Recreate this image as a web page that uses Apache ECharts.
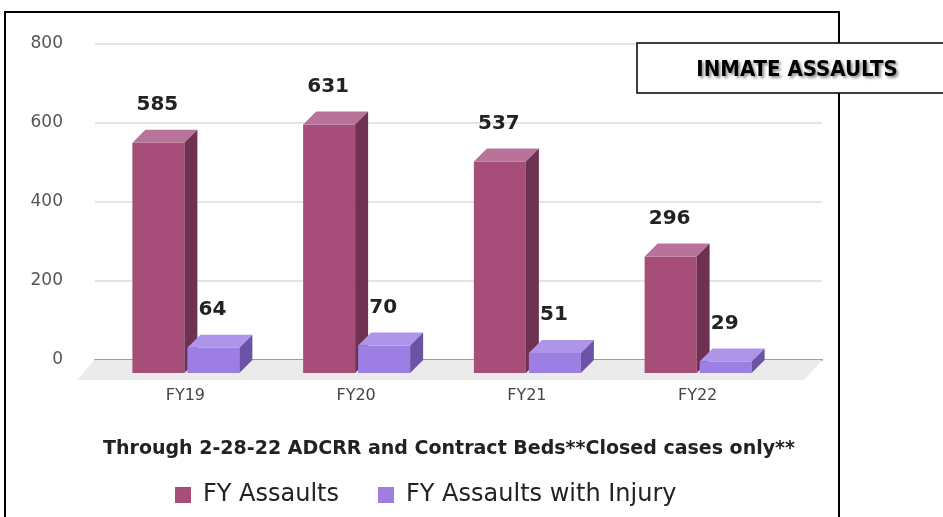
<!DOCTYPE html>
<html><head><meta charset="utf-8">
<script src="https://cdn.jsdelivr.net/npm/echarts@6/dist/echarts.min.js"></script>
<style>html,body{margin:0;padding:0;background:#fff}#c{width:943px;height:517px}</style>
</head><body><div id="c"></div>
<script>
const categories = ['FY19', 'FY20', 'FY21', 'FY22'];
const assaults = [585, 631, 537, 296];
const injuries = [64, 70, 51, 29];
const yMin = 0, yMax = 800, yStep = 200;
const seriesNames = ['FY Assaults', 'FY Assaults with Injury'];
const subtitle = 'Through 2-28-22 ADCRR and Contract Beds**Closed cases only**';
const boxTitle = 'INMATE ASSAULTS';

const DX = 13, DY = 13;
const ASSAULT = {front: '#a64d79', top: '#b9739a', side: '#6e3152'};
const INJURY = {front: '#9d7fe3', top: '#ae95ea', side: '#6b53a8'};
const LABEL_FONT = 'bold 20px "DejaVu Sans"';

function box3d(top, bottom, x0, x1, col) {
  return [
    {type: 'rect', shape: {x: x0, y: top, width: x1 - x0, height: bottom - top}, style: {fill: col.front}},
    {type: 'polygon', shape: {points: [[x0, top], [x1, top], [x1 + DX, top - DY], [x0 + DX, top - DY]]}, style: {fill: col.top}},
    {type: 'polygon', shape: {points: [[x1, top], [x1 + DX, top - DY], [x1 + DX, bottom - DY], [x1, bottom]]}, style: {fill: col.side}}
  ];
}
function valLabel(v, x, y) {
  return {type: 'text', style: {text: String(v), x: x, y: y, align: 'center', verticalAlign: 'middle', font: LABEL_FONT, fill: '#222'}};
}

const chart = echarts.init(document.getElementById('c'), null, {renderer: 'canvas'});
chart.setOption({
  backgroundColor: '#fff',
  animation: false,
  grid: [
    {left: 95, right: 121, top: 44, bottom: 157},
    {left: 100, right: 160, top: 58, bottom: 144}
  ],
  xAxis: [
    {gridIndex: 0, type: 'value', min: 0, max: 1, axisLabel: {show: false}, axisTick: {show: false}, splitLine: {show: false},
     axisLine: {show: true, lineStyle: {color: '#9e9e9e', width: 2}}},
    {gridIndex: 1, type: 'category', data: categories, axisLine: {show: false}, axisTick: {show: false},
     axisLabel: {margin: 15, color: '#444', fontSize: 16, fontFamily: 'DejaVu Sans'}}
  ],
  yAxis: [
    {gridIndex: 0, type: 'value', min: yMin, max: yMax, interval: yStep,
     axisLine: {show: false}, axisTick: {show: false},
     axisLabel: {margin: 32, color: '#555', fontSize: 17, fontFamily: 'DejaVu Sans'},
     splitLine: {lineStyle: {color: '#e4e4e4', width: 2}}},
    {gridIndex: 1, type: 'value', min: yMin, max: yMax, interval: yStep, show: false}
  ],
  legend: {
    left: 170, top: 478, icon: 'rect', itemWidth: 16, itemHeight: 16, itemGap: 39,
    data: seriesNames,
    textStyle: {fontSize: 24, fontFamily: 'DejaVu Sans', color: '#222', padding: [0, 0, 0, 7]}
  },
  graphic: [
    {type: 'rect', z: 100, shape: {x: 5, y: 12, width: 834, height: 600}, style: {fill: 'none', stroke: '#000', lineWidth: 2}},
    {type: 'rect', z: 101, shape: {x: 637, y: 43, width: 330, height: 50}, style: {fill: '#fff', stroke: '#000', lineWidth: 1.5}},
    {type: 'text', z: 102, style: {text: boxTitle, x: 797, y: 70, align: 'center', verticalAlign: 'middle',
      font: 'bold 22px "Liberation Sans Narrow", "DejaVu Sans Condensed", sans-serif', fill: '#000',
      textShadowColor: 'rgba(0,0,0,0.45)', textShadowBlur: 3, textShadowOffsetX: 2, textShadowOffsetY: 2}},
    {type: 'text', z: 102, style: {text: subtitle, x: 449, y: 449, align: 'center', verticalAlign: 'middle',
      font: 'bold 19px "DejaVu Sans"', fill: '#222'}}
  ],
  series: [
    {
      type: 'custom', name: 'floor', xAxisIndex: 0, yAxisIndex: 0, z: 1, silent: true,
      data: [[0, 0]],
      renderItem: function (params, api) {
        const cs = params.coordSys;
        const y = cs.y + cs.height, x0 = cs.x, x1 = cs.x + cs.width;
        return {type: 'polygon', shape: {points: [[x0, y], [x1, y], [x1 - 18, y + 20], [x0 - 18, y + 20]]},
          style: {fill: '#ebebeb'}};
      }
    },
    {
      type: 'custom', name: 'injuryLabels', xAxisIndex: 1, yAxisIndex: 1, z: 2, silent: true,
      data: injuries.map((v, i) => [i, v]),
      renderItem: function (params, api) {
        const p = api.coord([api.value(0), api.value(1)]);
        return valLabel(api.value(1), p[0] + 27, p[1] - 38);
      }
    },
    {
      type: 'custom', name: seriesNames[0], xAxisIndex: 1, yAxisIndex: 1, z: 3,
      itemStyle: {color: ASSAULT.front},
      data: assaults.map((v, i) => [i, v]),
      renderItem: function (params, api) {
        const p = api.coord([api.value(0), api.value(1)]);
        const b = api.coord([api.value(0), 0]);
        const c = p[0];
        const kids = box3d(p[1], b[1], c - 53, c - 1, ASSAULT);
        kids.push(valLabel(api.value(1), c - 28, p[1] - 38));
        return {type: 'group', children: kids};
      }
    },
    {
      type: 'custom', name: seriesNames[1], xAxisIndex: 1, yAxisIndex: 1, z: 4,
      itemStyle: {color: INJURY.front},
      data: injuries.map((v, i) => [i, v]),
      renderItem: function (params, api) {
        const p = api.coord([api.value(0), api.value(1)]);
        const b = api.coord([api.value(0), 0]);
        const c = p[0];
        return {type: 'group', children: box3d(p[1], b[1], c + 2, c + 54, INJURY)};
      }
    }
  ]
});
</script></body></html>
